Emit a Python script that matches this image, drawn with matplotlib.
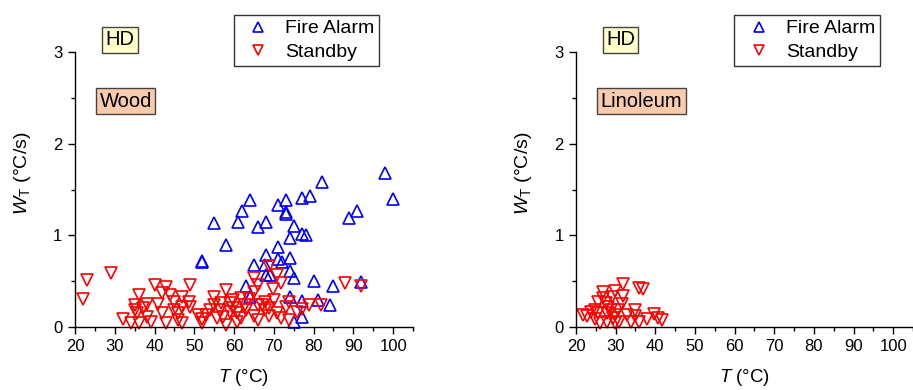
import matplotlib
matplotlib.use("Agg")
import matplotlib.pyplot as plt
from matplotlib.ticker import MultipleLocator

plt.rcParams['font.family'] = ['Liberation Sans', 'DejaVu Sans']
plt.rcParams['mathtext.fontset'] = 'custom'
plt.rcParams['mathtext.rm'] = 'Liberation Sans'
plt.rcParams['mathtext.it'] = 'Liberation Sans:italic'

# ---- data: Wood floor ----
wood_alarm_T = [98, 100, 82, 77, 79, 73, 71, 73, 73, 64, 62, 61, 55, 66, 68, 75,
                77, 78, 74, 58, 52, 52, 71, 68, 71, 72, 74, 65, 67.7, 68, 69, 74,
                75, 80, 85, 92, 63, 64, 74, 77, 81, 84, 75, 77, 89, 91]
wood_alarm_W = [1.68, 1.40, 1.58, 1.41, 1.43, 1.39, 1.33, 1.25, 1.23, 1.38, 1.27,
                1.15, 1.13, 1.09, 1.15, 1.10, 1.01, 1.00, 0.97, 0.89, 0.72, 0.71,
                0.875, 0.78, 0.74, 0.71, 0.75, 0.67, 0.67, 0.57, 0.57, 0.61, 0.53,
                0.50, 0.45, 0.49, 0.445, 0.33, 0.32, 0.28, 0.29, 0.24, 0.05, 0.11,
                1.19, 1.27]

wood_standby_T = [22, 23, 29, 32, 34, 35, 35, 36, 35.7, 36, 37, 38, 38, 39, 40, 41,
                  42, 43, 42, 43, 44, 45, 45, 46, 47, 47, 46, 47, 49, 48.7, 49, 51,
                  52, 52, 53, 54, 55, 55, 55.7, 56.4, 56.8, 58, 58, 59, 59, 59.7,
                  59.7, 60.8, 60.8, 61.8, 61.8, 62.7, 63.1, 63.8, 64.9, 65.1, 65.9,
                  65.9, 65, 65.9, 67.9, 67.9, 68.9, 68.9, 69.9, 70.9, 70.9, 71.9,
                  71.9, 73, 73.9, 73.9, 75.9, 77, 78.8, 81.8, 87.9, 91.9, 68.9, 70,
                  66.9, 57.1]
wood_standby_W = [0.30, 0.51, 0.59, 0.08, 0.04, 0.24, 0.18, 0.35, 0.15, 0.04, 0.20,
                  0.25, 0.11, 0.05, 0.46, 0.25, 0.37, 0.43, 0.15, 0.04, 0.35, 0.27,
                  0.18, 0.15, 0.32, 0.04, 0.07, 0.22, 0.46, 0.27, 0.22, 0.13, 0.08,
                  0.04, 0.13, 0.18, 0.32, 0.24, 0.10, 0.18, 0.26, 0.40, 0.02, 0.26,
                  0.16, 0.29, 0.20, 0.15, 0.05, 0.31, 0.09, 0.24, 0.18, 0.30, 0.53,
                  0.38, 0.46, 0.24, 0.12, 0.07, 0.27, 0.18, 0.66, 0.12, 0.41, 0.57,
                  0.15, 0.48, 0.09, 0.22, 0.27, 0.07, 0.16, 0.19, 0.24, 0.24, 0.48,
                  0.45, 0.20, 0.29, 0.24, 0.11]

# ---- data: Linoleum floor (no fire alarm points) ----
lino_alarm_T = []
lino_alarm_W = []
lino_standby_T = [21.7, 22.8, 23.9, 24.8, 25.6, 25.6, 26, 26.9, 26.9, 27.6, 27.7,
                  27.9, 29, 28.7, 29.8, 29.8, 29.8, 30.6, 30.9, 31.9, 31.9, 31.7,
                  32.9, 33.8, 34.8, 34.8, 35.9, 36.9, 35.9, 37.8, 39.6, 40.7, 41.8,
                  24.8, 28.1, 29.4]
lino_standby_W = [0.13, 0.12, 0.16, 0.08, 0.27, 0.15, 0.04, 0.38, 0.31, 0.26, 0.15,
                  0.05, 0.33, 0.18, 0.39, 0.13, 0.04, 0.18, 0.05, 0.47, 0.34, 0.25,
                  0.13, 0.05, 0.18, 0.12, 0.42, 0.41, 0.05, 0.08, 0.14, 0.09, 0.07,
                  0.18, 0.22, 0.09]

panels = [
    ("Wood", wood_alarm_T, wood_alarm_W, wood_standby_T, wood_standby_W),
    ("Linoleum", lino_alarm_T, lino_alarm_W, lino_standby_T, lino_standby_W),
]

fig = plt.figure(figsize=(9.13, 3.9), dpi=100)
ax_rects = [[0.0821, 0.1623, 0.3703, 0.7036],
            [0.6309, 0.1623, 0.3691, 0.7036]]

for rect, (floor, aT, aW, sT, sW) in zip(ax_rects, panels):
    ax = fig.add_axes(rect)
    ax.plot(aT, aW, linestyle='none', marker='^', ms=8.5, mfc='none',
            mec='#0000FF', mew=1.2, label='Fire Alarm', clip_on=False)
    ax.plot(sT, sW, linestyle='none', marker='v', ms=8.5, mfc='none',
            mec='#FF0000', mew=1.2, label='Standby', clip_on=False)

    ax.set_xlim(20, 105)
    ax.set_ylim(0, 3)
    ax.xaxis.set_major_locator(MultipleLocator(10))
    ax.xaxis.set_minor_locator(MultipleLocator(5))
    ax.yaxis.set_major_locator(MultipleLocator(1))
    ax.yaxis.set_minor_locator(MultipleLocator(0.5))
    ax.tick_params(which='major', direction='out', length=5, width=1,
                   labelsize=12, pad=4)
    ax.tick_params(which='minor', direction='out', length=3, width=1)
    ax.spines['top'].set_visible(False)
    ax.spines['right'].set_visible(False)
    for s in ('left', 'bottom'):
        ax.spines[s].set_linewidth(1)

    ax.set_xlabel(r'$\mathit{T}$ (°C)', fontsize=13.5)
    ax.set_ylabel(r'$\mathit{W}_\mathrm{T}$ (°C/s)', fontsize=14)
    ax.xaxis.set_label_coords(0.5, -0.148)
    ax.yaxis.set_label_coords(-0.125, 0.56)

    leg = ax.legend(loc='upper left', bbox_to_anchor=(0.47, 1.136),
                    fontsize=14, frameon=True, fancybox=False,
                    edgecolor='black', handlelength=2.0, handletextpad=0.4,
                    borderpad=0.25, labelspacing=0.3, borderaxespad=0)
    leg.get_frame().set_linewidth(1)
    for h in leg.legend_handles:
        h.set_markersize(7)

    ax.text(0.132, 1.045, 'HD', transform=ax.transAxes, fontsize=14.5,
            ha='center', va='center',
            bbox=dict(boxstyle='square,pad=0.17', fc='#FFFFCC', ec='#444444', lw=1))
    ax.text(0.073, 0.821, floor, transform=ax.transAxes, fontsize=14.5,
            ha='left', va='center',
            bbox=dict(boxstyle='square,pad=0.17', fc='#F8CBAD', ec='#444444', lw=1))

fig.savefig('out.png', dpi=100)
